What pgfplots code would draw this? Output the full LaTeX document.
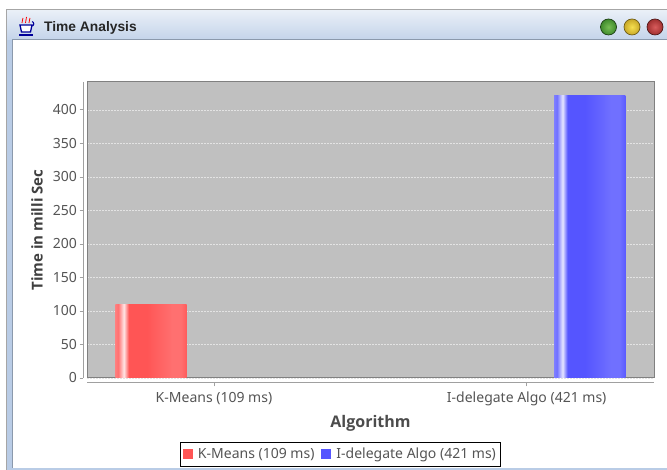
\documentclass[border=0pt]{standalone}
\usepackage{fontspec}
\usepackage{pgfplots}
\pgfplotsset{compat=1.18}
\setmainfont{Noto Sans}
\newfontfamily\titlefont{Liberation Sans}
\newfontfamily\labelfont{Open Sans}
\definecolor{plotbg}{HTML}{C0C0C0}
\definecolor{txt}{HTML}{555555}
\definecolor{axisline}{HTML}{A0A0A0}
\definecolor{frameblue}{HTML}{B9CCE6}
\definecolor{barRed}{HTML}{FF5555}\definecolor{barRedA}{HTML}{FF7F7F}\definecolor{barRedB}{HTML}{FF7070}\definecolor{barRedL}{HTML}{FF7070}
\definecolor{barBlue}{HTML}{5555FF}\definecolor{barBlueA}{HTML}{7F7FFF}\definecolor{barBlueB}{HTML}{7070FF}\definecolor{barBlueL}{HTML}{7070FF}
\pgfdeclarehorizontalshading{redbar}{100bp}{
 color(0bp)=(barRedA);
 color(25bp)=(barRedA); color(27bp)=(barRedB); color(31bp)=(white!85!barRed); color(34.5bp)=(barRed);
 color(47bp)=(barRed); color(65bp)=(barRedL); color(71bp)=(barRedL); color(75bp)=(barRed!80!barRedL); color(100bp)=(barRed)}
\pgfdeclarehorizontalshading{bluebar}{100bp}{
 color(0bp)=(barBlueA);
 color(25bp)=(barBlueA); color(27bp)=(barBlueB); color(31bp)=(white!85!barBlue); color(34.5bp)=(barBlue);
 color(47bp)=(barBlue); color(65bp)=(barBlueL); color(71bp)=(barBlueL); color(75bp)=(barBlue!80!barBlueL); color(100bp)=(barBlue)}
\begin{document}
\begin{tikzpicture}
\path[use as bounding box] (0,0) rectangle (667pt,470pt);
\begin{scope}[x=1pt,y=-1pt,shift={(0pt,470pt)}]
  % window frame
  \fill[frameblue] (6.5,10) rectangle (667,470);
  \fill[white] (12,40) rectangle (667,468);
  \shade[top color=frameblue!30!white, bottom color=frameblue!85!white] (6.5,10) rectangle (667,40);
  \draw[color=black!35,line width=1pt] (6.5,470) -- (6.5,9.5) -- (667,9.5);
  \draw[color=black!25!frameblue,line width=1pt] (12,40) -- (667,40);
  \draw[color=black!25!frameblue,line width=1pt] (12,40) -- (12,468);
  % icon
  \draw[red,line width=.8pt] (22,23) .. controls (21,20) and (24,20) .. (23,18);
  \draw[red,line width=.8pt] (25.5,23) .. controls (24.5,20) and (27.5,20) .. (26.5,17);
  \draw[red,line width=.8pt] (29,23) .. controls (28,20) and (31,20) .. (30,18);
  \draw[blue!60!black,line width=1.3pt,fill=white] (20,25) -- (32,25) -- (30.5,32) -- (21.5,32) -- cycle;
  \draw[blue!60!black,line width=1.3pt] (19,35) -- (33,35);
  \draw[blue!60!black,line width=1pt] (32,26) arc (90:-90:1.8 and 2.2);
  % title
  \node[anchor=west,inner sep=0pt,font=\titlefont\bfseries\fontsize{13.8}{16}\selectfont,text=black!85] at (44,27.5) {Time Analysis};
  % buttons
  \definecolor{gi}{HTML}{78BE55}\definecolor{go}{HTML}{3F8A2C}
  \definecolor{yi}{HTML}{F6E050}\definecolor{yo}{HTML}{C8A828}
  \definecolor{ri}{HTML}{D85C5C}\definecolor{ro}{HTML}{A03030}
  \draw[draw=black!55!go,line width=.7pt,inner color=gi,outer color=go] (608.5,27) circle (8);
  \draw[draw=black!45!yo,line width=.7pt,inner color=yi,outer color=yo] (632,27) circle (8);
  \draw[draw=black!50!ro,line width=.7pt,inner color=ri,outer color=ro] (655,27) circle (8);
  % offset axis lines
  \draw[axisline,line width=1pt] (83,82) -- (83,378);
  \draw[axisline,line width=1pt] (87,383) -- (654,383);
\end{scope}
% frame, grid, ticks and labels
\begin{axis}[
  at={(87pt,92pt)},anchor=south west,
  scale only axis,width=567pt,height=296pt,
  xmin=-0.406,xmax=1.407,ymin=0,ymax=441.6,
  axis background/.style={fill=plotbg},
  axis line style={draw=black!50,line width=1pt},
  xtick={0,1},xticklabels={K-Means (109 ms),I-delegate Algo (421 ms)},
  ytick={0,50,100,150,200,250,300,350,400},
  ymajorgrids,
  major grid style={white!55!plotbg,line width=.7pt,dash pattern=on 1.5pt off 1.5pt},
  tick align=outside,major tick length=3.5pt,
  x tick style={draw=axisline,yshift=-5pt,line width=.8pt},
  y tick style={draw=axisline,xshift=-4pt,line width=.8pt},
  xtick pos=lower,ytick pos=left,
  xticklabel style={yshift=-7pt},
  yticklabel style={xshift=-3pt},
  tick label style={font=\fontsize{14}{16}\selectfont,text=txt},
  /pgf/number format/assume math mode=true,
  xlabel={Algorithm},ylabel={Time in milli Sec},
  xlabel style={at={(axis description cs:0.5,-0.152)},anchor=center,font=\labelfont\bfseries\fontsize{16}{18}\selectfont,text=black!70},
  ylabel style={at={(axis description cs:-0.088,0.5)},anchor=center,font=\labelfont\bfseries\fontsize{15}{17}\selectfont,text=black!75},
]
\end{axis}
% bars and legend, above the grid
\begin{axis}[
  at={(87pt,92pt)},anchor=south west,
  scale only axis,width=567pt,height=296pt,
  xmin=-0.406,xmax=1.407,ymin=0,ymax=441.6,
  hide axis,
  legend style={at={(0.447,-0.257)},anchor=center,draw=black,line width=.9pt,fill=white,
    legend columns=2,font=\fontsize{14}{16}\selectfont,text=txt,inner xsep=3pt,inner ysep=4pt,
    /tikz/every even column/.style={column sep=5pt},
    /tikz/every odd column/.style={column sep=3pt}},
  legend cell align=left,
  ybar,bar width=71.4pt,
]
\addplot[draw=none,shading=redbar,bar shift=-63pt,
  legend image code/.code={\pgfpathrectangle{\pgfpoint{0pt}{-4.5pt}}{\pgfpoint{10pt}{10pt}}\pgfsetfillcolor{barRed}\pgfusepath{fill}}]
  coordinates {(0,109)};
\addlegendentry{K-Means (109 ms)}
\addplot[draw=none,shading=bluebar,bar shift=63pt,
  legend image code/.code={\pgfpathrectangle{\pgfpoint{0pt}{-4.5pt}}{\pgfpoint{10pt}{10pt}}\pgfsetfillcolor{barBlue}\pgfusepath{fill}}]
  coordinates {(1,421)};
\addlegendentry{I-delegate Algo (421 ms)}
\end{axis}
\end{tikzpicture}
\end{document}
